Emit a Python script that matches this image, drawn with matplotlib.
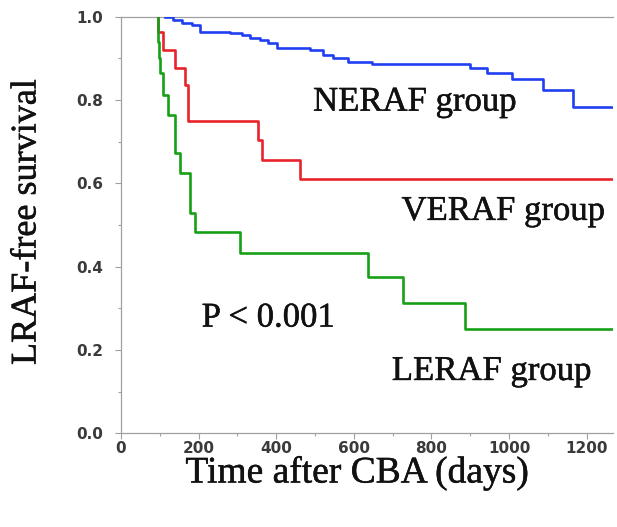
import matplotlib
matplotlib.use("Agg")
import matplotlib.pyplot as plt
from matplotlib.ticker import MultipleLocator
import matplotlib.patheffects as pe

# NERAF group (blue)
neraf_t = [113, 134, 156, 182, 204, 281, 311, 332, 358, 379, 401, 487, 521, 546,
           586, 646, 899, 943, 1007, 1088, 1166, 1268]
neraf_s = [1.0, 0.992, 0.984, 0.980, 0.964, 0.960, 0.956, 0.948, 0.944, 0.936, 0.924,
           0.920, 0.908, 0.900, 0.892, 0.886, 0.876, 0.864, 0.849, 0.824, 0.784, 0.784]

# VERAF group (red)
veraf_t = [96, 96, 109, 139, 165, 173, 354, 363, 461, 1268]
veraf_s = [1.0, 0.964, 0.920, 0.876, 0.836, 0.750, 0.704, 0.656, 0.611, 0.611]

# LERAF group (green)
leraf_t = [95, 95, 97, 100, 108, 121, 139, 152, 178, 191, 307, 637, 727, 887, 1268]
leraf_s = [1.0, 0.94, 0.90, 0.864, 0.812, 0.764, 0.673, 0.625, 0.529, 0.484, 0.432,
           0.375, 0.313, 0.250, 0.250]

x_ticks = [0, 200, 400, 600, 800, 1000, 1200]
y_ticks = [0.0, 0.2, 0.4, 0.6, 0.8, 1.0]

W, H = 617, 527
fig = plt.figure(figsize=(W / 100, H / 100), dpi=100)
ax = fig.add_axes([121 / W, 1 - 433.3 / H, (613 - 121) / W, (433.3 - 16.5) / H])

ax.step(neraf_t, neraf_s, where="post", color="#1f3ff0", lw=1.9, zorder=3)
ax.step(veraf_t, veraf_s, where="post", color="#e8232b", lw=1.9, zorder=3)
ax.step(leraf_t, leraf_s, where="post", color="#17a017", lw=1.9, zorder=4)

ax.set_xlim(0, 1268)
ax.set_ylim(0, 1.0)
ax.set_xticks(x_ticks)
ax.set_yticks(y_ticks)
ax.set_xticklabels([str(v) for v in x_ticks])
ax.set_yticklabels([f"{v:.1f}" for v in y_ticks])
ax.xaxis.set_minor_locator(MultipleLocator(100))
ax.yaxis.set_minor_locator(MultipleLocator(0.1))

spine_c = "#a0a0a0"
for side in ["left", "bottom", "top"]:
    ax.spines[side].set_color(spine_c)
    ax.spines[side].set_linewidth(0.9)
ax.spines["right"].set_visible(False)

ax.tick_params(axis="both", which="major", color=spine_c, length=4, width=0.8,
               labelcolor="#3a3a3a")
ax.tick_params(axis="both", which="minor", color=spine_c, length=2, width=0.8)
ax.tick_params(axis="y", which="major", pad=9)
ax.tick_params(axis="x", which="major", pad=1.5)
for lab in ax.get_xticklabels() + ax.get_yticklabels():
    lab.set_fontfamily("DejaVu Sans")
    lab.set_fontweight("bold")
    lab.set_fontsize(11)

serif = "Liberation Serif"
heavy = [pe.withStroke(linewidth=0.35, foreground="#111111")]
ann = dict(family=serif, size=25, color="#111111", ha="left", va="baseline",
           path_effects=heavy)
ax.text(495, 0.774, "NERAF group", **ann)
ax.text(723, 0.512, "VERAF group", **ann)
ax.text(698, 0.128, "LERAF group", **ann)
ax.text(208, 0.256, "P < 0.001", **ann)

fig.text(27 / W, 1 - 222 / H, "LRAF-free survival", family=serif, size=26,
         rotation=90, ha="center", va="center", color="#111111", path_effects=heavy)
fig.text(357 / W, 1 - 473 / H, "Time after CBA (days)", family=serif, size=27,
         ha="center", va="center", color="#111111", path_effects=heavy)

fig.savefig("out.png", dpi=100)
